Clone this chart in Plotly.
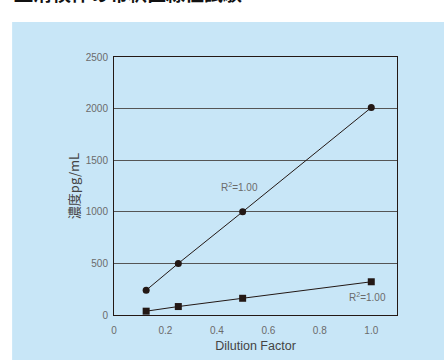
import plotly.graph_objects as go

dilution = [0.125, 0.25, 0.5, 1.0]
series_circle = [240, 500, 1000, 2010]
series_square = [37, 82, 162, 322]
y_ticks = [0, 500, 1000, 1500, 2000, 2500]
x_ticks = [0, 0.2, 0.4, 0.6, 0.8, 1.0]
x_ticklabels = ["0", "0.2", "0.4", "0.6", "0.8", "1.0"]

BLUE = "#C8E6F7"
DARK = "#231815"
GRAY = "#6b6b6b"
FONT = "Liberation Sans, Arial, sans-serif"
NARROW = "Liberation Sans Narrow, Liberation Sans, Arial, sans-serif"

fig = go.Figure()
fig.add_trace(go.Scatter(x=dilution, y=series_circle, mode="lines+markers",
                         line=dict(color=DARK, width=1),
                         marker=dict(symbol="circle", size=7, color=DARK),
                         showlegend=False))
fig.add_trace(go.Scatter(x=dilution, y=series_square, mode="lines+markers",
                         line=dict(color=DARK, width=1),
                         marker=dict(symbol="square", size=7, color=DARK),
                         showlegend=False))

fig.add_annotation(x=0.486, y=1240, text="R<sup>2</sup>=1.00", showarrow=False,
                   font=dict(family=NARROW, size=10, color=GRAY))
fig.add_annotation(x=0.984, y=174, text="R<sup>2</sup>=1.00", showarrow=False,
                   font=dict(family=NARROW, size=10, color=GRAY))

# blue panel
fig.add_shape(type="rect", xref="paper", yref="paper",
              x0=-0.36, x1=1.3, y0=-0.3, y1=1.1357,
              fillcolor=BLUE, line=dict(width=0), layer="below")

# clipped heading at the top
fig.add_annotation(xref="paper", yref="paper", x=-0.36, y=1.2, xanchor="left",
                   yanchor="bottom", yshift=-3,
                   text="<b>血清検体の希釈直線性試験</b>", showarrow=False,
                   font=dict(family="Noto Sans CJK JP", size=19, color="#111111"))

fig.update_xaxes(range=[0, 1.1], tickvals=x_ticks, ticktext=x_ticklabels,
                 automargin=False,
                 showgrid=False, zeroline=False, showline=True, mirror=True,
                 linecolor=DARK, linewidth=1, ticks="", ticklabelstandoff=6,
                 tickfont=dict(family=NARROW, size=10, color=GRAY),
                 title=dict(text="Dilution Factor", standoff=6,
                            font=dict(family=FONT, size=12.5, color="#444444")))
fig.update_yaxes(range=[0, 2500], tickvals=y_ticks,
                 automargin=False,
                 showgrid=True, gridcolor="#555555", gridwidth=1,
                 zeroline=False, showline=True, mirror=True,
                 linecolor=DARK, linewidth=1, ticks="", ticklabelstandoff=3,
                 tickfont=dict(family=NARROW, size=10, color=GRAY),
                 title=dict(text="濃度pg/mL", standoff=3,
                            font=dict(family="Noto Sans CJK JP", size=13, color="#444444")))

fig.update_layout(width=444, height=360,
                  margin=dict(l=114, r=47, t=57, b=45),
                  paper_bgcolor="white", plot_bgcolor="rgba(0,0,0,0)")

fig.write_html("out.html", config={"displayModeBar": False},
               post_script="document.body.style.margin='0';document.body.style.overflow='hidden';")
